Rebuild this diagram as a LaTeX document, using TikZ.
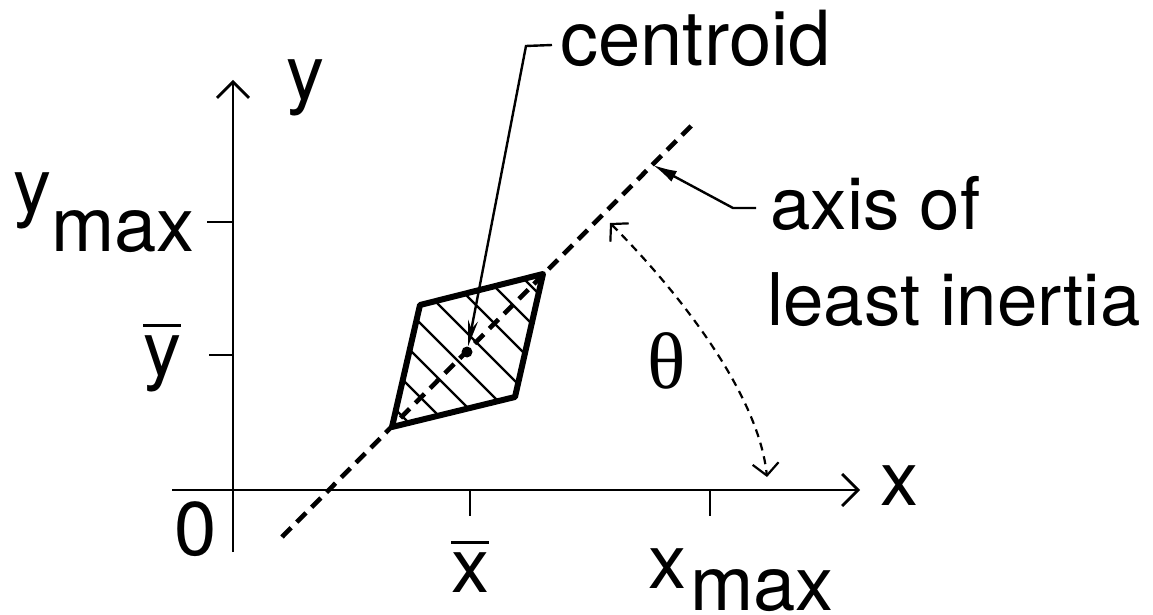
\documentclass[tikz,border=0pt]{standalone}
\usepackage{fontspec}
\setmainfont{TeX Gyre Heros}
\newfontfamily\greekfont{Liberation Serif}
\usetikzlibrary{arrows.meta}
\newcommand\barred[1]{\vbox{\hrule height 1.6pt\kern 4pt\hbox{#1}}}
\begin{document}
\begin{tikzpicture}[x=0.5pt,y=-0.5pt,
  lbl/.style={inner sep=0pt, font=\fontsize{38}{46}\selectfont},
  smalllbl/.style={inner sep=0pt, font=\fontsize{36.3}{44}\selectfont},
  axisline/.style={line width=1.4pt},
  axistip/.style={-{Straight Barb[length=8pt,width=16pt]}},
  tickline/.style={line width=1.4pt},
  mainaxis/.style={line width=2.3pt, dash pattern=on 6.5pt off 4pt},
  regionborder/.style={line width=3pt, line join=round},
  hatchline/.style={line width=1.2pt},
  leader/.style={line width=1.2pt},
  anglearc/.style={line width=1.1pt, dash pattern=on 4pt off 3pt,
    {Straight Barb[length=6pt,width=13pt]}-{Straight Barb[length=6pt,width=13pt]}}
]
\useasboundingbox (0,0) rectangle (1153,615);

% axes
\coordinate (ybot) at (233,552);
\coordinate (ytop) at (233,80);
\coordinate (xleft) at (172,490);
\coordinate (xright) at (860,490);
\draw[axisline,axistip] (ybot) -- (ytop);
\draw[axisline,axistip] (xleft) -- (xright);

% ticks
\coordinate (tyA) at (233,222); \coordinate (tyA2) at (207,222);
\coordinate (tyB) at (233,355); \coordinate (tyB2) at (209,355);
\coordinate (txA) at (470,490); \coordinate (txA2) at (470,516);
\coordinate (txB) at (710,490); \coordinate (txB2) at (710,516);
\draw[tickline] (tyA) -- (tyA2);
\draw[tickline] (tyB) -- (tyB2);
\draw[tickline] (txA) -- (txA2);
\draw[tickline] (txB) -- (txB2);

% axis of least inertia
\coordinate (Lbot) at (282,537);
\coordinate (Ltop) at (694,123);
\draw[mainaxis] (Lbot) -- (Ltop);

% region
\coordinate (TL) at (420,305);
\coordinate (TR) at (543,274);
\coordinate (BR) at (515,397);
\coordinate (BL) at (392,427);
\begin{scope}
  \clip (TL) -- (TR) -- (BR) -- (BL) -- cycle;
  \foreach \c in {-14,23,60,97,134,171,208,245}{
    \draw[hatchline] (\c+200,200) -- (\c+460,460);
  }
\end{scope}
\draw[regionborder] (TL) -- (TR) -- (BR) -- (BL) -- cycle;

% centroid dot and leader
\node[circle, fill, inner sep=0pt, minimum size=5.5pt] (cdot) at (467,352) {};
\coordinate (cH1) at (552,45);
\coordinate (cH2) at (526,46);
\draw[leader,-{Stealth[length=13pt,width=5pt]}] (cH1) -- (cH2) -- (cdot);

% axis leader
\coordinate (aH1) at (756,208);
\coordinate (aH2) at (733,208);
\coordinate (aTip) at (653,165);
\draw[leader,-{Latex[length=12pt,width=6pt]}] (aH1) -- (aH2) -- (aTip);

% angle arc
\coordinate (tA) at (610,223);
\coordinate (tB) at (767,477);
\draw[anglearc] (tA) .. controls (672,285) and (758,390) .. (tB);

% labels
\node[lbl, anchor=base west] (centroidlbl) at (560,66) {centroid};
\node[smalllbl, anchor=base west] (axislblA) at (770,230) {axis of};
\node[smalllbl, anchor=base west] (axislblB) at (767,325) {least inertia};
\node[lbl, anchor=base west] (ylbl) at (286,100) {y};
\node[lbl, anchor=base west] (xlbl) at (880,505) {x};
\node[lbl, anchor=base west] (zerolbl) at (174,555) {0};
\node[lbl, anchor=base] (xbarlbl) at (470,592) {\barred{x}};
\node[lbl, anchor=base west] (xmaxlbl) at (648,588) {x\kern2pt\lower11pt\hbox{max}};
\node[lbl, anchor=base west] (ymaxlbl) at (13,213) {y\lower19.5pt\hbox{max}};
\node[lbl, anchor=base west] (ybarlbl) at (143,375) {\barred{y}};
\node[lbl, anchor=base, font=\greekfont\fontsize{40}{48}\selectfont] (thetalbl) at (667,388) {θ};
\end{tikzpicture}
\end{document}
